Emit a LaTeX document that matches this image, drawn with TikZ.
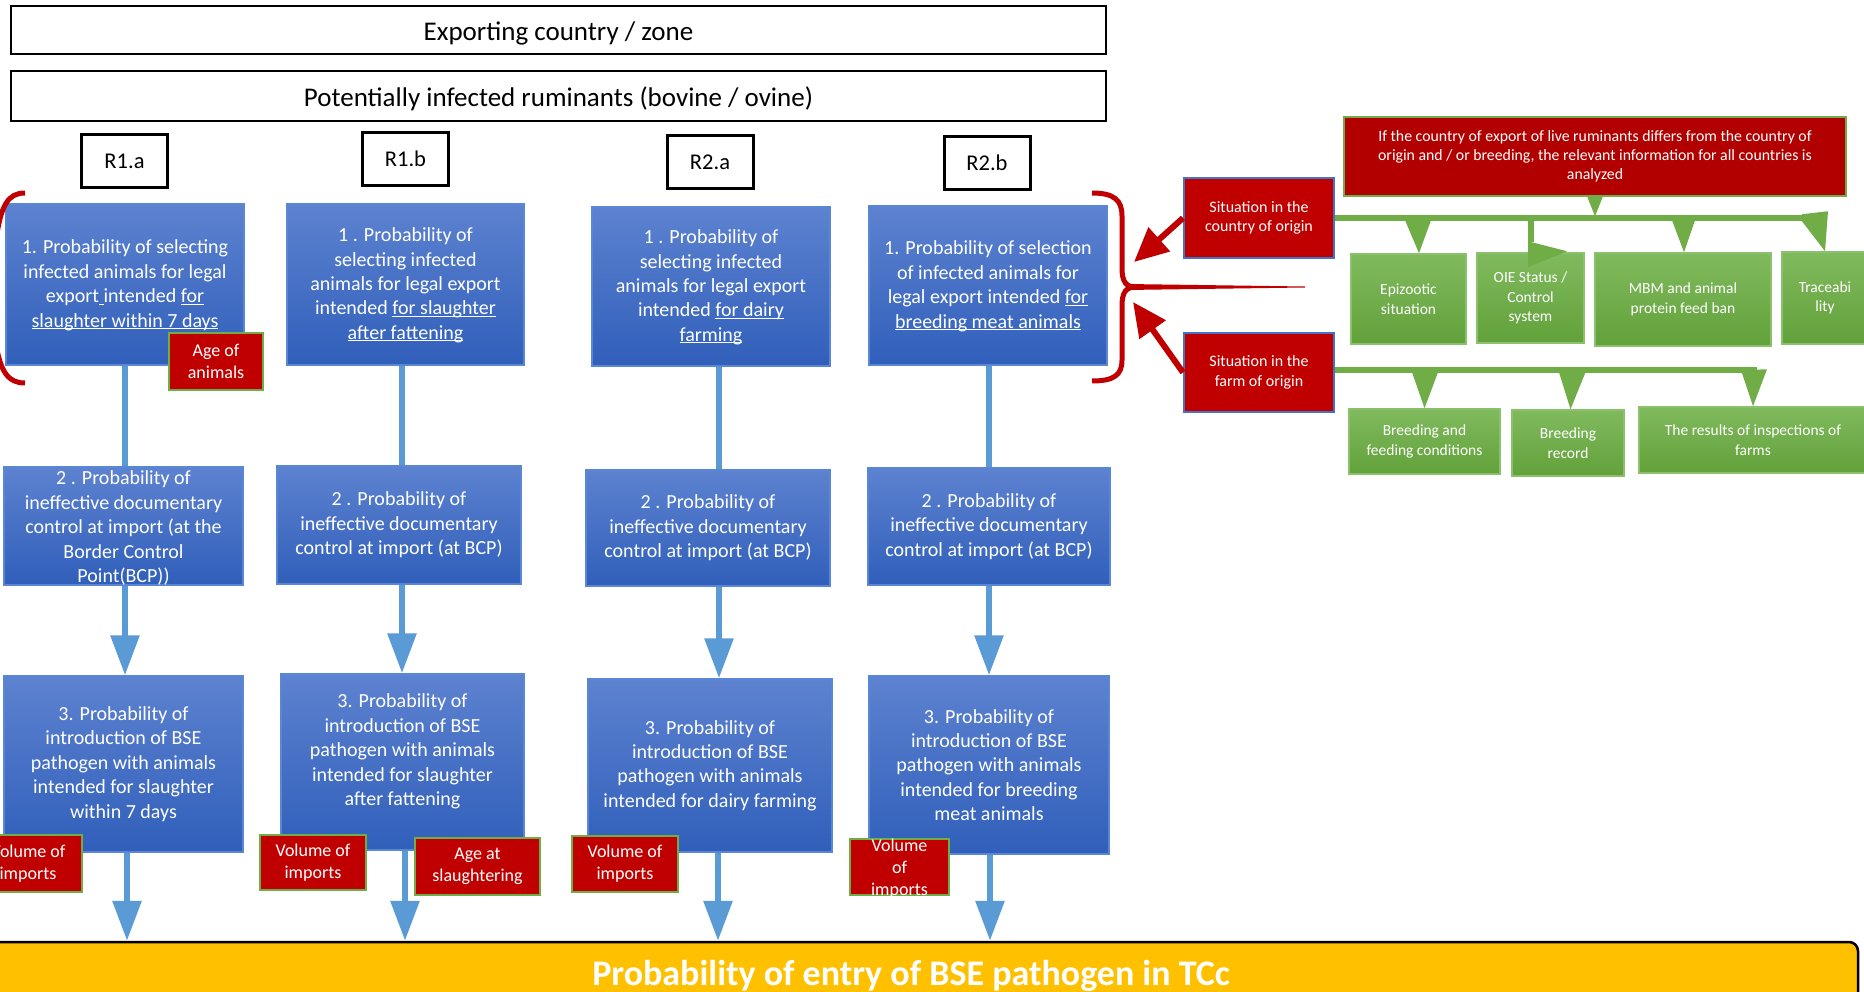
\documentclass[tikz,border=0pt]{standalone}
\usepackage{fontspec}
\setmainfont{Carlito}
\usetikzlibrary{arrows.meta,calc}
\definecolor{bluetop}{RGB}{93,130,208}
\definecolor{bluebot}{RGB}{48,95,186}
\definecolor{bluebord}{RGB}{90,134,214}
\definecolor{bluearr}{RGB}{91,155,213}
\definecolor{redc}{RGB}{192,0,0}
\definecolor{reddark}{RGB}{178,0,0}
\definecolor{grn}{RGB}{112,173,71}
\definecolor{greentop}{RGB}{128,186,94}
\definecolor{greenbot}{RGB}{98,161,58}
\definecolor{greenbord}{RGB}{140,193,108}
\definecolor{bordblue}{RGB}{68,114,196}
\definecolor{yel}{RGB}{255,192,0}
\newcommand{\ulx}[1]{\underline{\smash{#1}}}
\newcommand{\ovf}[2]{\raisebox{#1}[0pt][0pt]{\begin{tabular}{@{}c@{}}#2\end{tabular}}}
\newcommand{\lowr}[2]{\raisebox{#1}[0pt][0pt]{#2}}
\begin{document}
\begin{tikzpicture}[x=1pt,y=-1pt,
  topbox/.style={draw=black, line width=2pt, fill=white, minimum width=1095pt, inner sep=0pt, font=\fontsize{27}{32}\selectfont},
  rlabel/.style={draw=black, line width=3pt, fill=white, minimum width=86pt, minimum height=53pt, inner sep=0pt, font=\fontsize{22.5}{27}\selectfont},
  bluebox/.style={draw=bluebord, line width=1.5pt, top color=bluetop, bottom color=bluebot, text=white, align=center, inner sep=0pt, font=\fontsize{20}{24.4}\selectfont},
  redtag/.style={draw=grn, line width=2pt, fill=redc, text=white, align=center, inner sep=0pt, font=\fontsize{18}{22}\selectfont},
  sitbox/.style={draw=bordblue, line width=2pt, fill=redc, text=white, align=center, inner sep=0pt, minimum width=150pt, minimum height=80pt, font=\fontsize{16}{19.5}\selectfont},
  topred/.style={draw=grn, line width=2.5pt, fill=reddark, text=white, align=center, inner sep=0pt, font=\fontsize{15.8}{19}\selectfont},
  greenbox/.style={draw=greenbord, line width=1.5pt, top color=greentop, bottom color=greenbot, text=white, align=center, inner sep=0pt, font=\fontsize{15.5}{19.5}\selectfont},
  entrybar/.style={draw=black, line width=2.5pt, fill=yel, rounded corners=9pt, minimum width=1894pt, minimum height=68pt, inner sep=0pt, text=white, font=\bfseries\fontsize{36}{43}\selectfont},
  blueline/.style={draw=bluearr, line width=6pt},
  bluearrow/.style={draw=bluearr, line width=6pt, -{Triangle[width=28pt,length=40pt]}},
  redarrow/.style={draw=redc, line width=6pt, -{Triangle[width=31pt,length=34pt]}},
  greenbar/.style={draw=grn, line width=6.5pt},
  bracestyle/.style={draw=redc, line width=5pt}
]
\useasboundingbox (0,0) rectangle (1864,992);
\clip (0,0) rectangle (1864,992);
\fill[white] (0,0) rectangle (1864,992);

% bottom bar
\node[entrybar] (entry) at (911,976) {Probability of entry of BSE pathogen in TCc};

% top boxes
\node[topbox, minimum height=48pt] (exp) at (558.5,30) {\lowr{-10.5pt}{Exporting country / zone}};
\node[topbox, minimum height=50pt] (pot) at (558.5,96) {\lowr{-11pt}{Potentially infected ruminants (bovine / ovine)}};

% route labels
\node[rlabel] (r1a) at (124.5,161.5) {R1.a};
\node[rlabel] (r1b) at (405.5,159) {R1.b};
\node[rlabel] (r2a) at (710,162) {R2.a};
\node[rlabel] (r2b) at (987,163) {R2.b};

% row 1
\node[bluebox, minimum width=238pt, minimum height=161pt] (b1a) at (125,284.5)
  {1. Probability of selecting\\infected animals for legal\\export\ulx{\ }intended \ulx{for}\\\ulx{slaughter within 7 days}};
\node[bluebox, minimum width=237pt, minimum height=161pt] (b1b) at (405.5,284.5)
  {1 . Probability of\\selecting infected\\animals for legal export\\intended \ulx{for slaughter}\\\ulx{after fattening}};
\node[bluebox, minimum width=238pt, minimum height=159pt] (b2a) at (711,286.5)
  {1 . Probability of\\selecting infected\\animals for legal export\\intended \ulx{for dairy}\\\ulx{farming}};
\node[bluebox, minimum width=238pt, minimum height=159pt] (b2b) at (988,285.5)
  {1. Probability of selection\\of infected animals for\\legal export intended \ulx{for}\\\ulx{breeding meat animals}};

% row 2
\node[bluebox, minimum width=239pt, minimum height=118pt] (c1a) at (123.5,526)
  {\ovf{-8pt}{2 . Probability of\\ineffective documentary\\control at import (at the\\Border Control\\Point(BCP))}};
\node[bluebox, minimum width=244pt, minimum height=118pt] (c1b) at (399,525)
  {2 . Probability of\\ineffective documentary\\control at import (at BCP)};
\node[bluebox, minimum width=244pt, minimum height=116pt] (c2a) at (708,528)
  {2 . Probability of\\ineffective documentary\\control at import (at BCP)};
\node[bluebox, minimum width=242pt, minimum height=117pt] (c2b) at (989,526.5)
  {2 . Probability of\\ineffective documentary\\control at import (at BCP)};

% row 3
\node[bluebox, minimum width=239pt, minimum height=176pt] (d1a) at (123.5,764)
  {3. Probability of\\introduction of BSE\\pathogen with animals\\intended for slaughter\\within 7 days};
\node[bluebox, minimum width=243pt, minimum height=176pt] (d1b) at (402.5,762)
  {\ovf{5pt}{3. Probability of\\introduction of BSE\\pathogen with animals\\intended for slaughter\\after fattening}};
\node[bluebox, minimum width=244pt, minimum height=173pt] (d2a) at (710,765.5)
  {3. Probability of\\introduction of BSE\\pathogen with animals\\intended for dairy farming};
\node[bluebox, minimum width=240pt, minimum height=178pt] (d2b) at (989,765)
  {3. Probability of\\introduction of BSE\\pathogen with animals\\intended for breeding\\meat animals};

% column coordinates
\coordinate (k1) at (125,0);
\coordinate (k2) at (402,0);
\coordinate (k3) at (719,0);
\coordinate (k4) at (989,0);
\coordinate (m1) at (127,0);
\coordinate (m2) at (405,0);
\coordinate (m3) at (718,0);
\coordinate (m4) at (990,0);

% blue connectors
\draw[blueline] (b1a.south -| k1) -- (c1a.north -| k1);
\draw[blueline] (b1b.south -| k2) -- (c1b.north -| k2);
\draw[blueline] (b2a.south -| k3) -- (c2a.north -| k3);
\draw[blueline] (b2b.south -| k4) -- (c2b.north -| k4);
\draw[bluearrow] (c1a.south -| k1) -- (d1a.north -| k1);
\draw[bluearrow] (c1b.south -| k2) -- (d1b.north -| k2);
\draw[bluearrow] (c2a.south -| k3) -- (d2a.north -| k3);
\draw[bluearrow] (c2b.south -| k4) -- (d2b.north -| k4);
\draw[bluearrow] (d1a.south -| m1) -- (entry.north -| m1);
\draw[bluearrow] (d1b.south -| m2) -- (entry.north -| m2);
\draw[bluearrow] (d2a.south -| m3) -- (entry.north -| m3);
\draw[bluearrow] (d2b.south -| m4) -- (entry.north -| m4);

% red tags
\node[redtag, minimum width=94pt, minimum height=57pt] (age1) at (216,361.5) {Age of\\animals};
\node[redtag, minimum width=108pt, minimum height=57pt] (vol1) at (28,863.5) {Volume of\\imports};
\node[redtag, minimum width=106pt, minimum height=55pt] (vol2) at (313,862.5) {Volume of\\imports};
\node[redtag, minimum width=125pt, minimum height=57pt] (ageS) at (477.5,866.5) {Age at\\slaughtering};
\node[redtag, minimum width=106pt, minimum height=56pt] (vol3) at (625,864) {Volume of\\imports};
\node[redtag, minimum width=99pt, minimum height=56pt] (vol4) at (899.5,867) {\ovf{-6pt}{Volume\\of\\imports}};

% braces
\draw[bracestyle] (25,193) .. controls (8,193) and (1,205) .. (-4,240) -- (-4,345) .. controls (1,372) and (8,383) .. (25,383);
\draw[bracestyle] (1092,193) .. controls (1114,193) and (1122,200) .. (1122,216) -- (1122,268)
  .. controls (1122,282) and (1126,287) .. (1136,287)
  .. controls (1126,287) and (1122,292) .. (1122,306) -- (1122,360)
  .. controls (1122,375) and (1114,381) .. (1092,381);
\fill[redc] (1126,284) -- (1305,286.5) -- (1305,287.5) -- (1126,290) -- cycle;

% right side
\node[topred, minimum width=502pt, minimum height=79pt] (topred) at (1595,156.5)
  {If the country of export of live ruminants differs from the country of\\origin and / or breeding, the relevant information for all countries is\\analyzed};
\node[sitbox] (sitc) at (1259,218) {Situation in the\\country of origin};
\node[sitbox, minimum height=79pt] (sitf) at (1259,372.5) {Situation in the\\farm of origin};

\node[greenbox, minimum width=115pt, minimum height=90pt] (epi) at (1408.5,299) {Epizootic\\situation};
\node[greenbox, minimum width=107pt, minimum height=90pt] (oie) at (1530.5,298) {OIE Status /\\Control\\system};
\node[greenbox, minimum width=176pt, minimum height=93pt] (mbm) at (1683,299.5) {MBM and animal\\protein feed ban};
\node[greenbox, minimum width=86pt, minimum height=92pt] (trace) at (1825,298) {Traceabi\\lity};
\node[greenbox, minimum width=151pt, minimum height=65pt] (bf) at (1424.5,441.5) {Breeding and\\feeding conditions};
\node[greenbox, minimum width=112pt, minimum height=66pt] (br) at (1568,443) {Breeding\\record};
\node[greenbox, minimum width=228pt, minimum height=66pt] (res) at (1753,440) {The results of inspections of\\farms};

% green connectors (upper)
\draw[greenbar] (sitc.east) -- ++(470,0);
\fill[grn] ($(topred.south)+(-8,-1)$) -- ($(topred.south)+(8,-1)$) -- ($(topred.south)+(0,19)$) -- cycle;
\fill[grn] ($(epi.north)+(-3.5,-33)$) -- ($(epi.north)+(22.5,-33)$) -- ($(epi.north)+(10.5,0)$) -- cycle;
\draw[grn, line width=6pt] ($(oie.north)+(0.5,-35)$) -- ($(oie.north)+(0.5,-10)$);
\fill[grn] ($(oie.north)+(-2.5,-11)$) -- ($(oie.north)+(36.5,-1)$) -- ($(oie.north)+(-2.5,15)$) -- cycle;
\fill[grn] ($(mbm.north)+(-11,-32)$) -- ($(mbm.north)+(12,-32)$) -- ($(mbm.north)+(1,0)$) -- cycle;
\fill[grn] ($(trace.north)+(-23,-37)$) -- ($(trace.north)+(3,-40)$) -- (trace.north) -- ($(trace.north)+(-23,-30)$) -- cycle;

% green connectors (lower)
\draw[greenbar] ($(sitf.east)+(0,-2.5)$) -- ++(422,0);
\fill[grn] ($(bf.north)+(-12.5,-36)$) -- ($(bf.north)+(13.5,-36)$) -- (bf.north) -- cycle;
\fill[grn] ($(br.north)+(-9,-37)$) -- ($(br.north)+(17.5,-37)$) -- ($(br.north)+(2.5,0)$) -- cycle;
\fill[grn] ($(res.north)+(-12,-36)$) -- ($(res.north)+(14,-37)$) -- (res.north) -- cycle;

% red arrows
\coordinate (tipc) at (1134,262);
\coordinate (tipf) at (1133,302);
\draw[redarrow] (sitc.west) -- (tipc);
\draw[redarrow] (sitf.west) -- (tipf);
\end{tikzpicture}
\end{document}
